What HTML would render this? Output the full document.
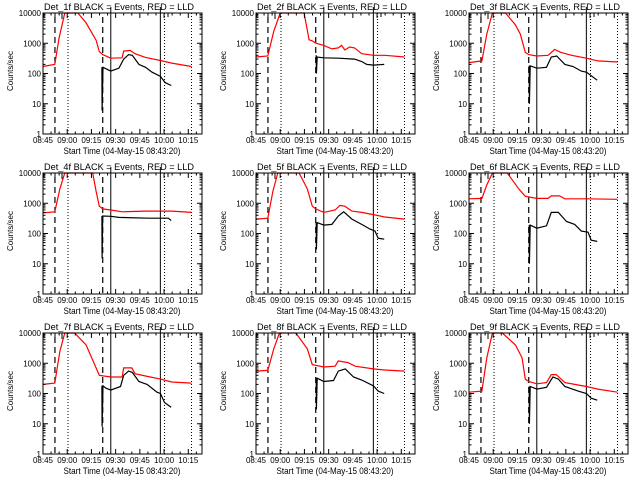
<!DOCTYPE html>
<html><head><meta charset="utf-8"><style>
html,body{margin:0;padding:0;background:#fff;}
svg{display:block;font-family:"Liberation Sans",sans-serif;}
</style></head><body>
<svg id="chart" width="640" height="480" viewBox="0 0 640 480"></svg>
<script>
// Data: times in minutes since 08:45, values in counts/sec
const panelLabels = ["Det_1f","Det_2f","Det_3f","Det_4f","Det_5f","Det_6f","Det_7f","Det_8f","Det_9f"];
const xTickMinutes = [0,15,30,45,60,75,90];
const xTickLabels = ["08:45","09:00","09:15","09:30","09:45","10:00","10:15"];
const yTickValues = [1,10,100,1000,10000];
const yTickLabels = ["1","10","100","1000","10000"];
const dashedTimes = [7.4,37];
const solidTimes = [42,72.7];
const dottedTimes = [15.5,75.3,92];
const redSeries = [
 [[0,170],[7.3,200],[10,1500],[13.5,10000],[21.6,10000],[26.7,4700],[32.9,1260],[34.9,530],[37,420],[42,320],[49,330],[50,550],[54,580],[57,450],[63.5,340],[72.7,270],[79.8,220],[92,170]],
 [[0,350],[7.3,380],[11,2500],[15,10000],[29.8,10000],[32.9,1300],[34.9,1200],[37.3,1000],[42,850],[47,650],[51,700],[53,850],[55,600],[58,750],[61,700],[65.5,450],[72.7,400],[79.8,400],[92,350]],
 [[0,230],[8,260],[11,2000],[14.5,10000],[22.6,10000],[28.8,4000],[31.8,2000],[34.9,500],[37,420],[42,380],[49,400],[53,620],[57,500],[63.5,400],[72.7,320],[79.8,260],[92,240]],
 [[0,480],[7.3,520],[10.5,3000],[13.5,10000],[30.8,10000],[32.9,2500],[34.9,800],[37,650],[42,600],[49,520],[63.5,550],[79.8,550],[92,500]],
 [[0,300],[7.3,320],[10.5,2500],[13.5,10000],[26.7,10000],[31.8,3000],[34.9,800],[37,650],[42,500],[49,600],[52,850],[55,800],[59.4,550],[65.5,500],[72.7,420],[79.8,350],[92,300]],
 [[0,1400],[8,1450],[11,4000],[14.5,10000],[23.7,10000],[30.8,3000],[34.9,1700],[42,1450],[49,1450],[51,1750],[56,1750],[59.4,1400],[72.7,1400],[92,1350]],
 [[0,200],[7.3,220],[10.5,2500],[13.5,10000],[19.6,10000],[26.7,4000],[32.9,700],[34.9,400],[42,350],[49,350],[50,700],[55,700],[57,450],[63.5,380],[72.7,300],[79.8,240],[92,220]],
 [[0,550],[7.3,580],[11,3000],[14.5,10000],[24.7,10000],[31.8,3000],[34.9,900],[42,750],[49,800],[51,1200],[57,1050],[61.4,800],[72.7,650],[79.8,600],[92,550]],
 [[0,110],[8,120],[11,1500],[14.5,10000],[20.6,10000],[28.8,4000],[32.9,1500],[34.9,300],[37,250],[42,210],[48,230],[51,420],[54,420],[59.4,230],[65.5,200],[72.7,170],[79.8,140],[92,110]]
];
const blackSeries = [
 [[36.5,160],[36.6,6],[37.2,160],[42,120],[47,150],[50,300],[53,420],[55.3,400],[59.4,200],[63.5,160],[67.6,110],[72.7,80],[75.7,50],[79.4,40]],
 [[37.3,400],[37.4,100],[37.9,350],[42,330],[51,320],[61,300],[65.5,250],[68.6,200],[72.7,190],[79.4,200]],
 [[37.3,180],[37.4,10],[37.9,180],[42,150],[48,160],[51,350],[54.3,380],[59.4,200],[64.5,170],[69.6,120],[72.7,110],[79.4,60]],
 [[36.5,380],[36.6,15],[37,380],[42,370],[47,340],[65.5,320],[77.7,320],[79.4,270]],
 [[37.3,230],[37.4,30],[37.9,230],[42,190],[47,200],[51,380],[54.3,520],[59.4,300],[65.5,200],[70.6,140],[73.7,120],[75.7,70],[79.4,65]],
 [[37.3,190],[37.4,10],[37.9,190],[42,150],[48,180],[51,500],[55.3,500],[60.4,250],[65.5,200],[69.6,120],[73.7,110],[75.7,60],[79.4,55]],
 [[36.5,180],[36.6,8],[37.2,180],[39,150],[42,130],[48,170],[50,400],[53,550],[55.3,500],[59.4,250],[64.5,200],[70.6,110],[72.7,100],[75.3,50],[79.4,35]],
 [[37.3,320],[37.4,30],[37.9,320],[42,250],[48,270],[51,550],[55.3,650],[60.4,350],[65.5,280],[72.7,180],[75.7,120],[79.4,100]],
 [[37.3,170],[37.4,10],[37.9,170],[42,140],[48,160],[52,350],[55.3,300],[59.4,170],[67.6,120],[72.7,100],[75.7,70],[79.4,60]]
];

const NS = "http://www.w3.org/2000/svg";
const svg = document.getElementById("chart");
const L = 43, R = 202, T = 13, B = 134, TMAX = 98.5;
function mk(tag, attrs, parent){ const e=document.createElementNS(NS,tag); for(const k in attrs) e.setAttribute(k,attrs[k]); parent.appendChild(e); return e; }

for (let p=0;p<9;p++){
  const ox = (p%3)*213, oy = Math.floor(p/3)*160;
  const g = mk("g",{transform:`translate(${ox},${oy})`},svg);
  
  
  const xs = t => L + t/TMAX*(R-L);
  const ys = v => B - Math.log10(Math.max(v,1))/4*(B-T);
  dashedTimes.forEach(t=>{ const l=mk("line",{x1:xs(t),x2:xs(t),y1:T+4,y2:B,stroke:"#000","stroke-width":1.2,"stroke-dasharray":"6,4"},g);
      });
  solidTimes.forEach(t=>{ const l=mk("line",{x1:xs(t),x2:xs(t),y1:T-6,y2:B,stroke:"#000","stroke-width":1},g);
      });
  dottedTimes.forEach(t=>{ const l=mk("line",{x1:xs(t),x2:xs(t),y1:T,y2:B,stroke:"#000","stroke-width":1,"stroke-dasharray":"1,2"},g);
      });
  const br = mk("path",{d:`M44 17V13H52 M55 17V13H62V19 M168 17V13H175`,fill:"none",stroke:"#000","stroke-width":1},g);
   
  const red = mk("polyline",{points:redSeries[p].map(d=>xs(d[0]).toFixed(1)+","+ys(d[1]).toFixed(1)).join(" "),fill:"none",stroke:"#ff0000","stroke-width":1.2},g);
   
  const blk = mk("polyline",{points:blackSeries[p].map(d=>xs(d[0]).toFixed(1)+","+ys(d[1]).toFixed(1)).join(" "),fill:"none",stroke:"#000","stroke-width":1.2},g);
   
  const fr = mk("rect",{x:L,y:T,width:R-L,height:B-T,fill:"none",stroke:"#000","stroke-width":1},g);
   
  yTickValues.forEach((v,i)=>{
    const y=ys(v);
    mk("line",{x1:L,x2:L+5,y1:y,y2:y,stroke:"#000"},g);
    mk("line",{x1:R,x2:R-5,y1:y,y2:y,stroke:"#000"},g);
    const tx=mk("text",{x:L-2,y:y+3,"font-size":8,"text-anchor":"end",fill:"#000"},g); tx.textContent=yTickLabels[i];
     
    if(i<yTickValues.length-1) for(let m=2;m<10;m++){ const ym=ys(v*m);
      mk("line",{x1:L,x2:L+2.5,y1:ym,y2:ym,stroke:"#000"},g); mk("line",{x1:R,x2:R-2.5,y1:ym,y2:ym,stroke:"#000"},g); }
  });
  xTickMinutes.forEach((t,i)=>{
    const x=xs(t);
    mk("line",{x1:x,x2:x,y1:B,y2:B-5,stroke:"#000"},g);
    mk("line",{x1:x,x2:x,y1:T,y2:T+5,stroke:"#000"},g);
    const tx=mk("text",{x:x,y:B+9,"font-size":8,"text-anchor":"middle",fill:"#000"},g); tx.textContent=xTickLabels[i];
     
  });
  for(let t=5;t<TMAX;t+=5){ if(t%15===0) continue; const x=xs(t); mk("line",{x1:x,x2:x,y1:B,y2:B-2.5,stroke:"#000"},g); mk("line",{x1:x,x2:x,y1:T,y2:T+2.5,stroke:"#000"},g); }
  const ti=mk("text",{x:119,y:10,"font-size":9.5,"text-anchor":"middle",fill:"#000",textLength:150,lengthAdjust:"spacingAndGlyphs"},g);
  ti.textContent=panelLabels[p]+" BLACK = Events, RED = LLD";
   
  const xt=mk("text",{x:122,y:154,"font-size":9,"text-anchor":"middle",fill:"#000",textLength:117,lengthAdjust:"spacingAndGlyphs"},g);
  xt.textContent="Start Time (04-May-15 08:43:20)";
   
  const yt=mk("text",{x:0,y:0,"font-size":8,"text-anchor":"middle",fill:"#000",transform:"translate(13,71) rotate(-90)"},g);
  yt.textContent="Counts/sec";
   
}
</script>
</body></html>
